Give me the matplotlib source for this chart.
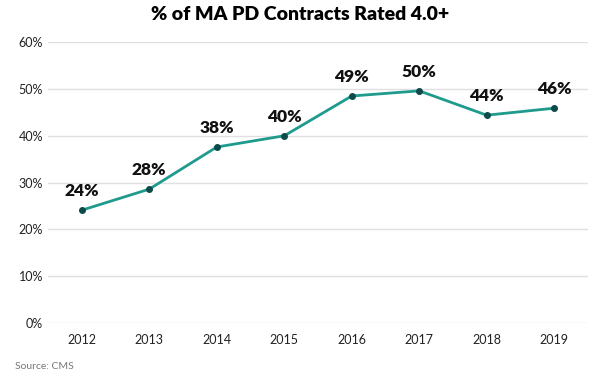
import matplotlib.pyplot as plt
from matplotlib.ticker import FuncFormatter

plt.rcParams['font.family'] = ['Lato', 'DejaVu Sans']

# data
years = ['2012', '2013', '2014', '2015', '2016', '2017', '2018', '2019']
pct = [0.241, 0.286, 0.376, 0.400, 0.485, 0.496, 0.444, 0.459]
labels = ['24%', '28%', '38%', '40%', '49%', '50%', '44%', '46%']

fig = plt.figure(figsize=(6, 3.8), dpi=100)
ax = fig.add_axes([0.08, 0.15, 0.90, 0.739])

x = range(len(years))
ax.plot(x, pct, color='#1f9a8c', linewidth=2, marker='o', markersize=4,
        markerfacecolor='#0d4b4b', markeredgecolor='#0d4b4b', zorder=3)

# etiket nilai di atas titik
for i, v in enumerate(pct):
    ax.annotate(labels[i], (i, v), xytext=(0, 8), textcoords='offset points',
                ha='center', va='bottom', fontsize=12.5, fontweight='heavy', color='#111111')

ax.set_ylim(0, 0.6)
ax.set_xlim(-0.5, len(years) - 0.5)
ax.set_yticks([0, 0.1, 0.2, 0.3, 0.4, 0.5, 0.6])
ax.yaxis.set_major_formatter(FuncFormatter(lambda v, p: f'{v*100:.0f}%'))
ax.set_xticks(list(x))
ax.set_xticklabels(years)
ax.grid(axis='y', color='#e0e0e0', linewidth=1)
ax.set_axisbelow(True)
for s in ax.spines.values():
    s.set_visible(False)
ax.tick_params(length=0, labelsize=9, colors='#222222')
ax.tick_params(axis='x', pad=8)

fig.suptitle('% of MA PD Contracts Rated 4.0+', x=0.5, y=0.985, fontsize=14, fontweight='heavy')
fig.text(0.025, 0.03, 'Source: CMS', fontsize=7.5, color='#777777')

fig.savefig('out.png', dpi=100)
